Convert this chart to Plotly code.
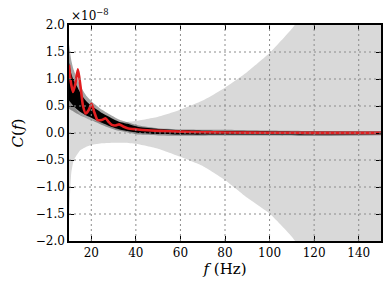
import plotly.graph_objects as go

# ---------------- data (values in units of 1e-8) ----------------
band_f = [10, 10.5, 11, 12, 13, 15, 18, 20, 25, 30, 35, 40, 50, 60, 70, 80, 90, 100, 110, 120, 135, 150]
band_upper = [1.55, 1.15, 0.85, 0.55, 0.45, 0.34, 0.27, 0.24, 0.21, 0.2, 0.2, 0.22, 0.3, 0.43, 0.6, 0.84, 1.13, 1.48, 1.93, 2.5, 3.5, 5.0]
band_lower = [-1.55, -1.1, -0.75, -0.52, -0.44, -0.32, -0.25, -0.22, -0.19, -0.18, -0.18, -0.2, -0.29, -0.44, -0.61, -0.87, -1.2, -1.49, -1.92, -2.5, -3.5, -5.0]

draw_f = [10, 11, 12, 13.5, 15.8, 18, 20.3, 24.8, 29.3, 32.4, 36.3, 41.3, 50, 62.3, 80, 100, 120, 150]
outer_upper = [1.65, 1.35, 1.18, 1.02, 0.82, 0.68, 0.58, 0.43, 0.32, 0.25, 0.2, 0.14, 0.09, 0.065, 0.06, 0.045, 0.035, 0.03]
outer_lower = [0.45, 0.42, 0.4, 0.36, 0.31, 0.27, 0.23, 0.15, 0.08, 0.04, 0.01, -0.03, -0.045, -0.05, -0.045, -0.045, -0.055, -0.04]
core_upper = [1.3, 1.1, 0.98, 0.87, 0.69, 0.58, 0.5, 0.37, 0.27, 0.21, 0.17, 0.11, 0.075, 0.05, 0.035, 0.03, 0.025, 0.025]
core_lower = [0.6, 0.55, 0.5, 0.44, 0.37, 0.32, 0.28, 0.19, 0.11, 0.07, 0.035, 0.0, -0.02, -0.03, -0.03, -0.03, -0.03, -0.025]

red_f = [10, 10.8, 11.8, 12.8, 14.0, 15.2, 16.3, 17.5, 18.8, 20.1, 21.4, 22.8, 24.6, 26.5, 27.9, 29.2, 30.8, 32.5, 34.3, 36.3, 40, 45, 50, 60, 70, 80, 100, 120, 150]
red_c = [1.26, 0.95, 0.76, 0.9, 1.18, 0.85, 0.5, 0.36, 0.42, 0.54, 0.38, 0.24, 0.24, 0.27, 0.2, 0.15, 0.14, 0.16, 0.12, 0.09, 0.07, 0.05, 0.04, 0.025, 0.015, 0.01, 0.005, 0.003, 0.003]

x_ticks = [20, 40, 60, 80, 100, 120, 140]
y_ticks = [-2.0, -1.5, -1.0, -0.5, 0.0, 0.5, 1.0, 1.5, 2.0]

FONT = "DejaVu Serif"

fig = go.Figure()

def band(xs, up, lo, color, smooth):
    fig.add_trace(go.Scatter(x=xs, y=up, mode="lines", line=dict(width=0, shape="spline", smoothing=smooth),
                             showlegend=False, hoverinfo="skip"))
    fig.add_trace(go.Scatter(x=xs, y=lo, mode="lines", line=dict(width=0, shape="spline", smoothing=smooth),
                             fill="tonexty", fillcolor=color, showlegend=False, hoverinfo="skip"))

band(band_f, band_upper, band_lower, "#d9d9d9", 0.4)
band(draw_f, outer_upper, outer_lower, "rgba(0,0,0,0.35)", 0.6)
band(draw_f, core_upper, core_lower, "rgba(0,0,0,1)", 0.6)

fig.add_trace(go.Scatter(x=red_f, y=red_c, mode="lines",
                         line=dict(color="rgb(226,30,32)", width=2.6, shape="spline", smoothing=0.6),
                         showlegend=False, hoverinfo="skip"))

# dotted grid on top (as in the reference)
shapes = []
for xv in x_ticks:
    shapes.append(dict(type="line", xref="x", yref="paper", x0=xv, x1=xv, y0=0, y1=1,
                       line=dict(color="#8c8c8c", width=1, dash="2px,3px"), layer="above"))
for yv in y_ticks[1:-1]:
    shapes.append(dict(type="line", xref="paper", yref="y", x0=0, x1=1, y0=yv, y1=yv,
                       line=dict(color="#8c8c8c", width=1, dash="2px,3px"), layer="above"))

axis_common = dict(showline=True, linecolor="black", linewidth=1.5, mirror="ticks",
                   ticks="inside", ticklen=5, tickwidth=1, tickcolor="black",
                   showgrid=False, zeroline=False, layer="above traces", automargin=False,
                   tickfont=dict(family=FONT, size=12, color="black"))

fig.update_layout(
    width=391, height=289,
    margin=dict(l=69, r=10, t=25, b=48),
    paper_bgcolor="white", plot_bgcolor="white",
    font=dict(family=FONT),
    shapes=shapes,
    xaxis=dict(range=[10, 150], tickvals=x_ticks, ticktext=[str(v) for v in x_ticks],
               title=dict(text="<i>f</i> (Hz)", font=dict(family=FONT, size=15, color="black"), standoff=4),
               **axis_common),
    yaxis=dict(range=[-2, 2], tickvals=y_ticks, tickformat=".1f",
               title=dict(text="<i>C</i>(<i>f</i>)", font=dict(family=FONT, size=15, color="black"), standoff=8),
               **axis_common),
    annotations=[dict(text="×10<sup>−8</sup>", xref="paper", yref="paper", x=0, y=1, xanchor="left",
                      yanchor="bottom", yshift=0, showarrow=False,
                      font=dict(family=FONT, size=12, color="black"))],
)

fig.write_html("out.html", config={"displayModeBar": False},
               post_script="document.body.style.margin='0';")
